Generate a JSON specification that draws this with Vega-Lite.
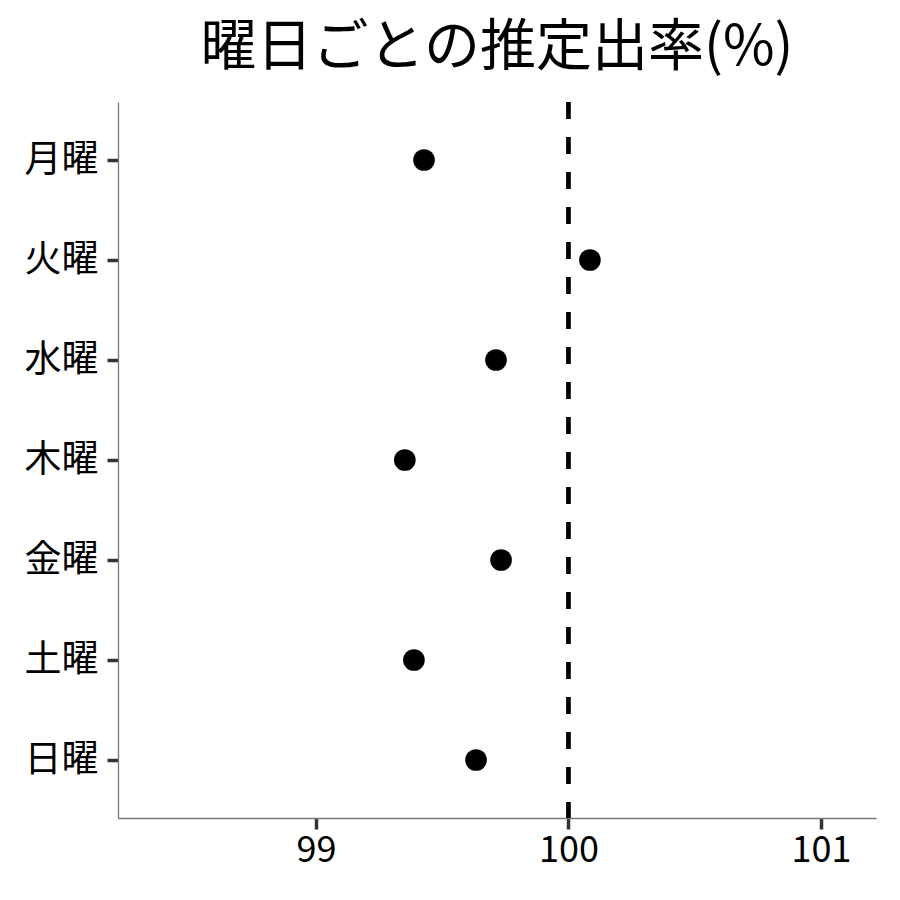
{
  "$schema": "https://vega.github.io/schema/vega-lite/v6.json",
  "autosize": {"type": "none"},
  "padding": {"left": 118, "top": 102, "right": 24, "bottom": 82},
  "width": 758,
  "height": 716,
  "title": {
    "text": "曜日ごとの推定出率(%)",
    "font": "Noto Sans CJK JP",
    "fontSize": 56,
    "fontWeight": "normal",
    "color": "#000000",
    "anchor": "middle",
    "offset": 23
  },
  "config": {
    "view": {"stroke": null},
    "font": "Noto Sans CJK JP"
  },
  "data": {
    "values": [
      {"day": "月曜", "rate": 99.428},
      {"day": "火曜", "rate": 100.085},
      {"day": "水曜", "rate": 99.713},
      {"day": "木曜", "rate": 99.352},
      {"day": "金曜", "rate": 99.733},
      {"day": "土曜", "rate": 99.388},
      {"day": "日曜", "rate": 99.634}
    ]
  },
  "layer": [
    {
      "mark": {"type": "rule", "color": "#000000", "strokeWidth": 3.5, "strokeDash": [17, 18]},
      "encoding": {"x": {"datum": 100, "type": "quantitative"}}
    },
    {
      "mark": {"type": "circle", "color": "#000000", "opacity": 1, "size": 470},
      "encoding": {
        "x": {
          "field": "rate",
          "type": "quantitative",
          "title": null,
          "scale": {"domain": [98.216, 101.218], "nice": false, "zero": false},
          "axis": {
            "values": [99, 100, 101],
            "format": "d",
            "grid": false,
            "domainColor": "#777777",
            "domainWidth": 1.3,
            "tickColor": "#333333",
            "tickWidth": 3.5,
            "tickSize": 11,
            "labelFontSize": 36,
            "labelColor": "#000000",
            "labelPadding": 4,
            "labelFont": "Noto Sans CJK JP"
          }
        },
        "y": {
          "field": "day",
          "type": "nominal",
          "title": null,
          "sort": null,
          "scale": {"type": "point", "padding": 0.58},
          "axis": {
            "grid": false,
            "domainColor": "#777777",
            "domainWidth": 1.3,
            "tickColor": "#333333",
            "tickWidth": 3.5,
            "tickSize": 11,
            "labelFontSize": 37,
            "labelColor": "#000000",
            "labelPadding": 9,
            "labelFont": "Noto Sans CJK JP"
          }
        }
      }
    }
  ]
}
